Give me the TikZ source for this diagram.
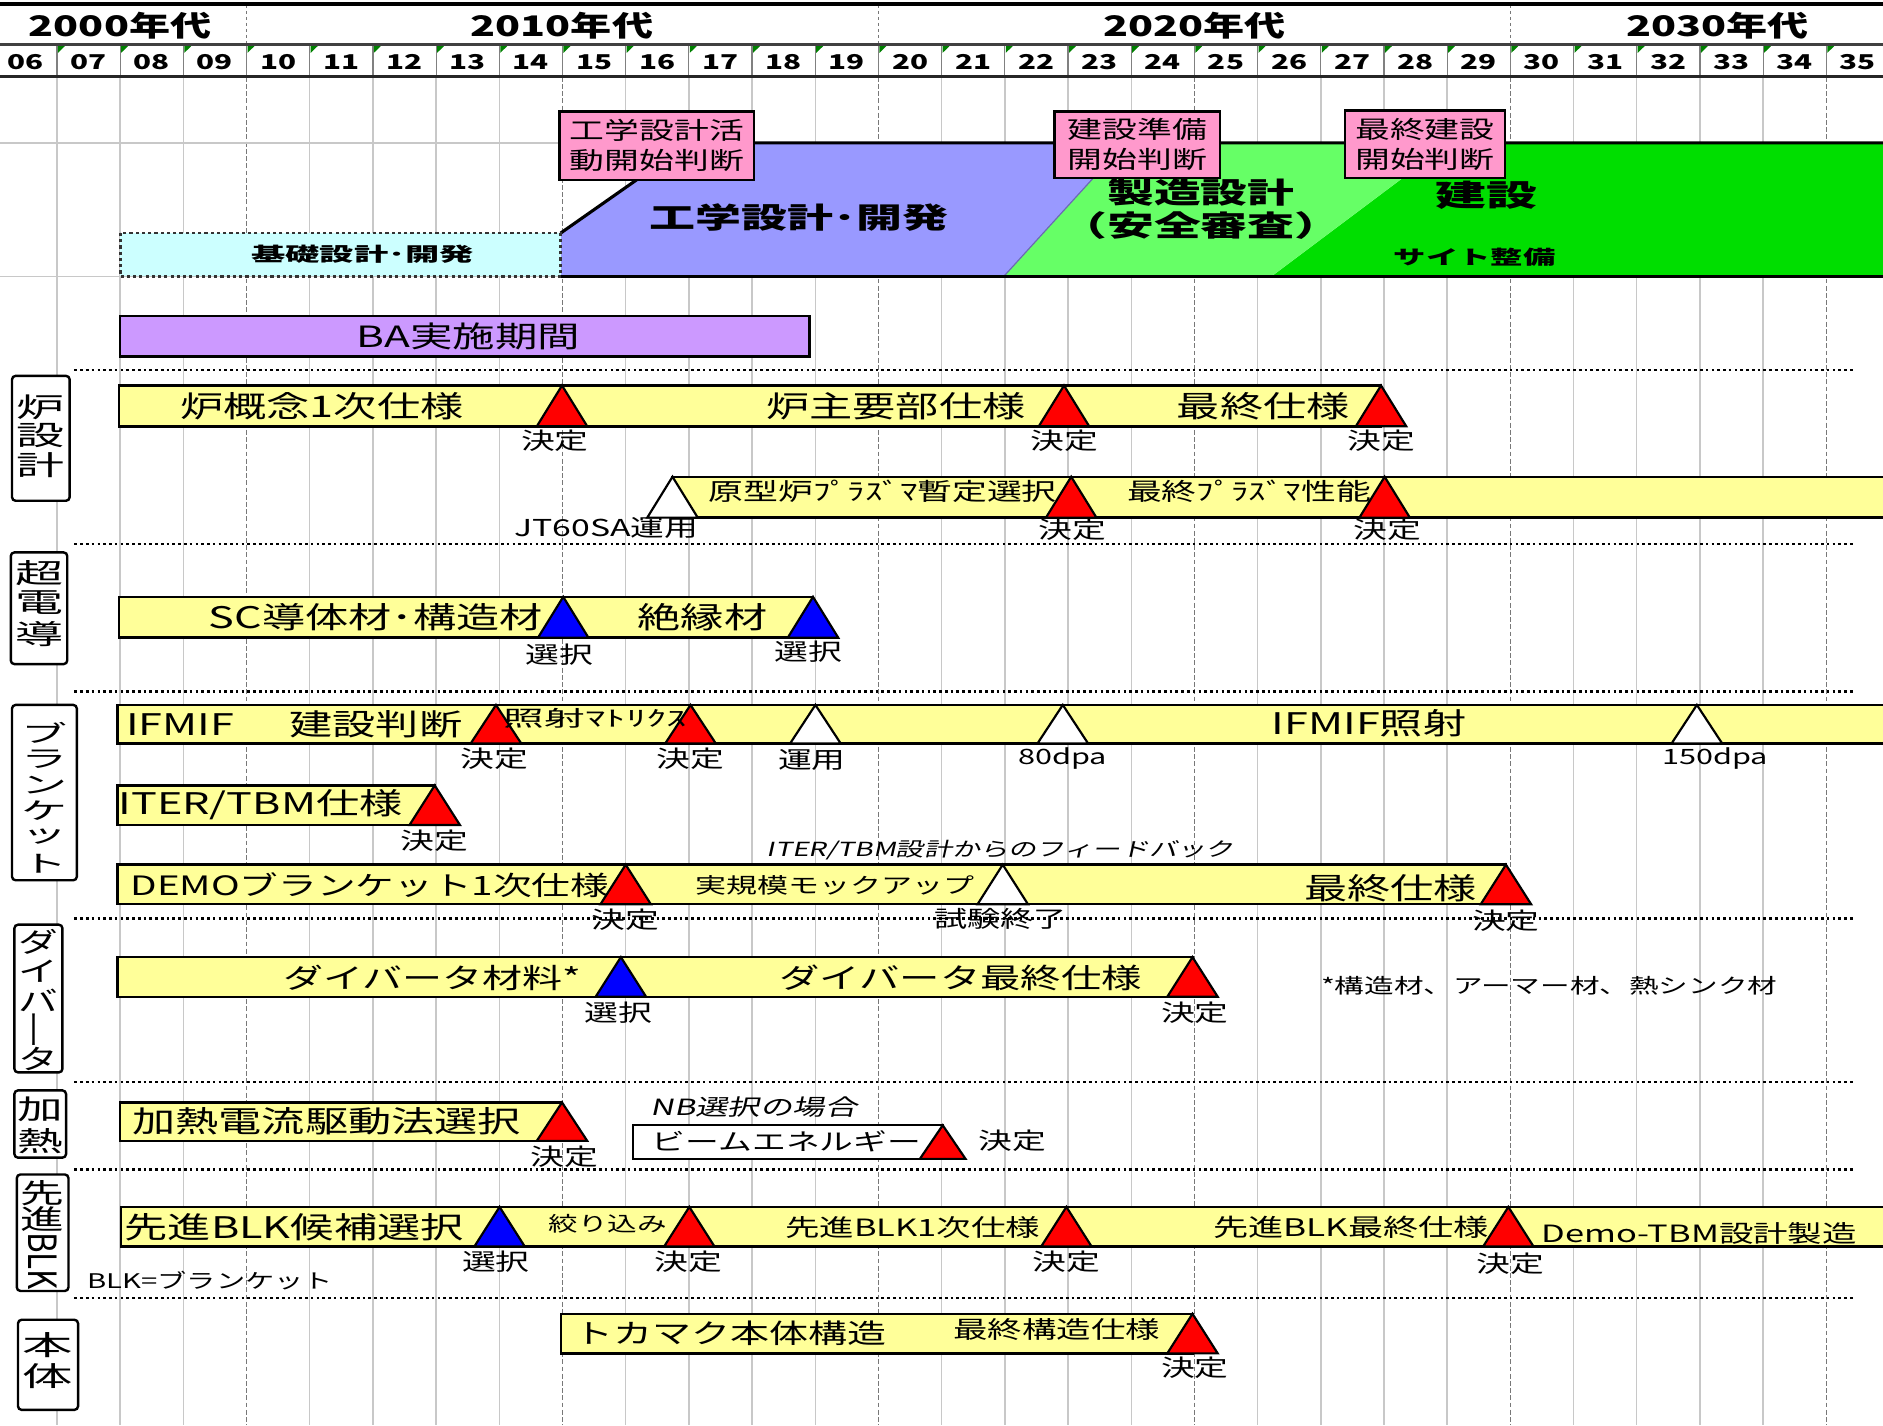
\documentclass[tikz,border=0pt]{standalone}
\usepackage{fontspec}
\usepackage{graphicx}
\setmainfont[FakeStretch=1.45]{Noto Sans CJK JP}
\newfontfamily\jpit[FakeStretch=1.45,FakeSlant=0.22]{Noto Sans CJK JP}
\definecolor{barY}{RGB}{255,255,153}
\definecolor{engB}{RGB}{153,153,255}
\definecolor{mfgG}{RGB}{102,255,102}
\definecolor{conG}{RGB}{0,222,0}
\definecolor{basC}{RGB}{204,255,255}
\definecolor{baP}{RGB}{204,153,255}
\definecolor{pinkB}{RGB}{255,153,204}
\definecolor{gridL}{RGB}{200,200,200}
\definecolor{gridD}{RGB}{120,120,120}
\definecolor{tickG}{RGB}{0,128,0}
\newcommand\fz[2]{\fontsize{#1}{#2}\selectfont}
\newcommand\sx[2]{\scalebox{#1}[1]{#2}}
\newcommand\mtri[4]{\filldraw[fill=#1,draw=black,line width=0.9pt,line join=miter] (#2,#3) -- ({#2+21},#4) -- ({#2-21},#4) -- cycle;}
% vertical character: name, x, y, scale, text
\newcommand\vch[5]{\node (#1) at (#2,#3) {\sx{#4}{\fz{11.4}{13}#5}};}
\newcommand\vchs[5]{\node (#1) at (#2,#3) {\sx{#4}{\fz{9.8}{11}#5}};}
\tikzset{
  bar/.style={draw=black,fill=barY,line width=1pt},
  lbig/.style={font=\fz{12.4}{15}},
  lsml/.style={font=\fz{9.7}{12}},
  sepline/.style={line width=1.1pt,dash pattern=on 1.1pt off 1.3pt},
  catbox/.style={draw=black,line width=1pt,rounded corners=1.5pt,fill=white},
  pinkbox/.style={draw=black,fill=pinkB,line width=1pt},
}
\begin{document}
\begin{tikzpicture}[x=0.5pt,y=-0.5pt,every node/.style={inner sep=0pt,outer sep=0pt}]
\clip (0,0) rectangle (1568,1187);
\fill[white] (0,0) rectangle (1568,1187);
% body grid
\foreach \i in {1,...,29} {
  \pgfmathsetmacro\xx{-5.18+\i*52.62}
  \pgfmathtruncatemacro\m{mod(\i+1,5)}
  \ifnum\m=0\relax
    \draw[gridD,line width=0.7pt,dash pattern=on 2pt off 1pt] (\xx,64) -- (\xx,1187);
  \else
    \draw[gridL,line width=0.6pt] (\xx,64) -- (\xx,1187);
  \fi
  \draw[gray,line width=0.5pt] (\xx,37) -- (\xx,64);
  \fill[tickG] ({\xx+0.8},38.5) -- ({\xx+6.5},38.5) -- ({\xx+0.8},44) -- cycle;
}
\draw[gridL,line width=0.5pt] (0,119) -- (1568,119);
\draw[gridL,line width=0.5pt] (0,230) -- (1568,230);
% header
\foreach \xx in {205.3,731.5,1257.7}
  \draw[gridD,line width=0.7pt,dash pattern=on 1.5pt off 1pt] (\xx,4) -- (\xx,37);
\draw[line width=1.6pt] (0,3.5) -- (1568,3.5);
\draw[line width=1.3pt,black!75] (0,37) -- (1568,37);
\draw[line width=1.3pt,black!85] (0,64) -- (1568,64);
\node[font=\bfseries\fz{11.8}{14}] (d2000) at (100,21) {2000年代};
\node[font=\bfseries\fz{11.8}{14}] (d2010) at (468,21) {2010年代};
\node[font=\bfseries\fz{11.8}{14}] (d2020) at (995,21) {2020年代};
\node[font=\bfseries\fz{11.8}{14}] (d2030) at (1430,21) {2030年代};
\foreach \lab [count=\c from 0] in {06,07,08,09,10,11,12,13,14,15,16,17,18,19,20,21,22,23,24,25,26,27,28,29,30,31,32,33,34,35}
  \node[font=\bfseries\fz{8.5}{10}] (yr\lab) at ({-5.18+(\c+0.5)*52.62},51.5) {\lab};
% phase band
\fill[conG] (1059,230) -- (1207,119) -- (1575,119) -- (1575,230) -- cycle;
\fill[mfgG] (836,230) -- (937,119) -- (1207,119) -- (1059,230) -- cycle;
\fill[engB] (467,230) -- (467,194) -- (574,119) -- (937,119) -- (836,230) -- cycle;
\draw[engB!70!black,line width=0.5pt] (836,230) -- (937,119);
\draw[line width=1.3pt] (467,194) -- (574,119) -- (1575,119);
\draw[line width=1.3pt] (467,230) -- (1575,230);
\draw[fill=basC,draw=black!80,line width=1.2pt,dash pattern=on 1.3pt off 1.3pt] (100,194) rectangle (467,230);
\node (base) at (302,212) {\sx{1.23}{\bfseries\fz{8}{10}基礎設計･開発}};
\node (eng) at (665,181) {\sx{1.1}{\bfseries\fz{12}{14}工学設計･開発}};
\node (mfg1) at (1000,160) {\sx{1.12}{\bfseries\fz{12}{14}製造設計}};
\node (mfg2) at (1000,188) {\sx{1.12}{\bfseries\fz{12}{14}\kern-0.6em（安全審査）\kern-0.6em}};
\node (con) at (1238,163) {\sx{1.17}{\bfseries\fz{12.5}{15}建設}};
\node (site) at (1228,214) {\sx{1.16}{\bfseries\fz{8}{10}サイト整備}};
\draw[pinkbox] (466,93) rectangle (628,150);
\node[align=center,font=\fz{10}{12.5}] (pk1) at (547,121.5) {工学設計活\\動開始判断};
\draw[pinkbox] (878,93) rectangle (1016,148);
\node[align=center,font=\fz{10}{12.5}] (pk2) at (947,120.5) {建設準備\\開始判断};
\draw[pinkbox] (1120,92) rectangle (1253,148);
\node[align=center,font=\fz{10}{12.5}] (pk3) at (1186.5,120) {最終建設\\開始判断};
% BA
\draw[fill=baP,draw=black,line width=1pt] (100,263) rectangle (674,297);
\node[font=\fz{12.2}{15}] (ba) at (390,280) {BA実施期間};
% separators
\foreach \yy in {308,453,576,765,901,974,1081}
  \draw[sepline] (62,\yy) -- (1545,\yy);
% category boxes
\draw[catbox] (10,313) rectangle (58,417);
\vch{c1a}{34}{339}{1.21}{炉}\vch{c1b}{34}{363}{1.21}{設}\vch{c1c}{34}{387}{1.21}{計}
\draw[catbox] (9,460) rectangle (56,553);
\vch{c2a}{32.5}{477}{1.21}{超}\vch{c2b}{32.5}{502}{1.21}{電}\vch{c2c}{32.5}{528}{1.21}{導}
\draw[catbox] (10,587) rectangle (64,733);
\vchs{c3a}{37}{610}{1.35}{ブ}\vchs{c3b}{37}{632}{1.35}{ラ}\vchs{c3c}{37}{654}{1.35}{ン}
\vchs{c3d}{37}{675}{1.35}{ケ}\vchs{c3e}{37}{697}{1.35}{ッ}\vchs{c3f}{37}{719}{1.35}{ト}
\draw[catbox] (12,770) rectangle (52,893);
\vch{c4a}{32}{784}{1.0}{ダ}\vch{c4b}{32}{808.5}{1.0}{イ}\vch{c4c}{32}{833}{1.0}{バ}
\vch{c4d}{32}{857.5}{1.0}{\rotatebox[origin=c]{90}{ー}}\vch{c4e}{32}{882}{1.0}{タ}
\draw[catbox] (12,908) rectangle (55,964);
\vch{c5a}{33.5}{924}{1.15}{加}\vch{c5b}{33.5}{950}{1.15}{熱}
\draw[catbox] (14,978) rectangle (57,1075);
\vch{c6a}{35.5}{993.5}{1.1}{先}\vch{c6b}{35.5}{1015}{1.1}{進}
\node (c6c) at (35.5,1050) {\sx{1.8}{\rotatebox{-90}{\fz{9}{10}BLK}}};
\draw[catbox] (15,1099) rectangle (65,1174);
\vch{c7a}{40}{1120}{1.27}{本}\vch{c7b}{40}{1146}{1.27}{体}
% Row A
\draw[bar] (99,321) rectangle (1150,355);
\mtri{red}{468}{321}{355}\mtri{red}{886}{321}{355}\mtri{red}{1150}{321}{355}
\node[lbig] (a1) at (268,338) {炉概念1次仕様};
\node[lbig] (a2) at (746,338) {炉主要部仕様};
\node[lbig] (a3) at (1052,338) {最終仕様};
\node[lsml] (a1d) at (462,367) {決定};
\node[lsml] (a2d) at (886,367) {決定};
\node[lsml] (a3d) at (1150,367) {決定};
% Row B
\draw[bar] (560,397) rectangle (1580,431);
\mtri{white}{560}{397}{431}\mtri{red}{892}{397}{431}\mtri{red}{1153}{397}{431}
\node[font=\fz{10}{12}] (b1) at (735,409) {原型炉ﾌﾟﾗｽﾞﾏ暫定選択};
\node[font=\fz{10}{12}] (b2) at (1040,409) {最終ﾌﾟﾗｽﾞﾏ性能};
\node[lsml] (b0d) at (505,440) {JT60SA運用};
\node[lsml] (b1d) at (893,441) {決定};
\node[lsml] (b2d) at (1155,441) {決定};
% Row C
\draw[bar] (99,497) rectangle (677,531);
\mtri{blue}{469}{497}{531}\mtri{blue}{677}{497}{531}
\node[lbig] (c1t) at (313,514) {SC導体材･構造材};
\node[lbig] (c2t) at (585,514) {絶縁材};
\node[lsml] (c1d) at (466,545) {選択};
\node[lsml] (c2d) at (673,543) {選択};
% Row D
\draw[bar] (98,587) rectangle (1580,619);
\mtri{red}{413}{587}{619}\mtri{red}{575}{587}{619}\mtri{white}{679}{587}{619}\mtri{white}{885}{587}{619}\mtri{white}{1413}{587}{619}
\node[lbig] (d1) at (150,603) {IFMIF};
\node[lbig] (d2) at (313,603) {建設判断};
\node (d3) at (496,598) {\sx{1.3}{\fz{9}{11}照射ﾏﾄﾘｸｽ}};
\node[lbig] (d4) at (1140,602) {IFMIF照射};
\node[lsml] (d1d) at (412,632) {決定};
\node[lsml] (d2d) at (575,632) {決定};
\node[lsml] (d3d) at (676,633) {運用};
\node[font=\fz{8.8}{11}] (d4d) at (885,632) {80dpa};
\node[font=\fz{8.8}{11}] (d5d) at (1428,632) {150dpa};
% Row E
\draw[bar] (98,654) rectangle (362,687);
\mtri{red}{362}{654}{687}
\node[lbig] (e1) at (217,670) {ITER/TBM仕様};
\node[lsml] (e1d) at (362,700) {決定};
% Row F
\draw[bar] (98,720) rectangle (1254,753);
\mtri{red}{521}{720}{753}\mtri{white}{835}{720}{753}\mtri{red}{1254}{720}{753}
\node[font=\fz{11.1}{14}] (f1) at (308,737) {DEMOブランケット1次仕様};
\node[font=\fz{8.9}{11}] (f2) at (695,737) {実規模モックアップ};
\node[lbig] (f3) at (1158,740) {最終仕様};
\node[font=\jpit\fz{8.1}{10}] (f4) at (833,708) {ITER/TBM設計からのフィードバック};
\node[lsml] (f1d) at (521,766) {決定};
\node[font=\fz{9.5}{12}] (f2d) at (833,765) {試験終了};
\node[lsml] (f3d) at (1254,767) {決定};
% Row G
\draw[bar] (98,797) rectangle (993,830);
\mtri{blue}{517}{797}{830}\mtri{red}{993}{797}{830}
\node[font=\fz{11.5}{14}] (g1) at (360,814) {ダイバータ材料*};
\node[font=\fz{11.6}{14}] (g2) at (800,814) {ダイバータ最終仕様};
\node[font=\fz{8.5}{10}] (g3) at (1290,821) {*構造材、アーマー材、熱シンク材};
\node[lsml] (g1d) at (515,843) {選択};
\node[lsml] (g2d) at (995,843) {決定};
% Row H
\draw[bar] (100,918) rectangle (468,950);
\mtri{red}{468}{918}{950}
\node[lbig] (h1) at (272,934) {加熱電流駆動法選択};
\node[lsml] (h1d) at (470,963) {決定};
\draw[draw=black,fill=white,line width=1pt] (527,937) rectangle (785,965);
\filldraw[fill=red,draw=black,line width=0.9pt] (785,937) -- (804,965) -- (766,965) -- cycle;
\node[font=\fz{9.7}{12}] (h2) at (655,950) {ビームエネルギー};
\node[font=\jpit\fz{9.3}{11}] (h3) at (628,922) {NB選択の場合};
\node[lsml] (h2d) at (843,950) {決定};
% Row I
\draw[bar] (101,1005) rectangle (1580,1038);
\mtri{blue}{416}{1005}{1038}\mtri{red}{574}{1005}{1038}\mtri{red}{888}{1005}{1038}\mtri{red}{1256}{1005}{1038}
\node[lbig] (i1) at (245,1022) {先進BLK候補選択};
\node[font=\fz{8.5}{10}] (i2) at (506,1019) {絞り込み};
\node[font=\fz{9.9}{12}] (i3) at (760,1022) {先進BLK1次仕様};
\node[font=\fz{10.1}{12}] (i4) at (1125,1022) {先進BLK最終仕様};
\node[font=\fz{9.9}{12}] (i5) at (1415,1027) {Demo-TBM設計製造};
\node[lsml] (i1d) at (413,1051) {選択};
\node[lsml] (i2d) at (573,1051) {決定};
\node[lsml] (i3d) at (888,1051) {決定};
\node[lsml] (i4d) at (1258,1052) {決定};
\node[font=\fz{8.4}{10}] (blk) at (175,1066) {BLK=ブランケット};
% Row J
\draw[bar] (467,1094) rectangle (993,1127);
\mtri{red}{993}{1094}{1127}
\node[font=\fz{11.2}{14}] (j1) at (608,1110) {トカマク本体構造};
\node[font=\fz{9.9}{12}] (j2) at (880,1107) {最終構造仕様};
\node[lsml] (j1d) at (995,1139) {決定};
\end{tikzpicture}
\end{document}
